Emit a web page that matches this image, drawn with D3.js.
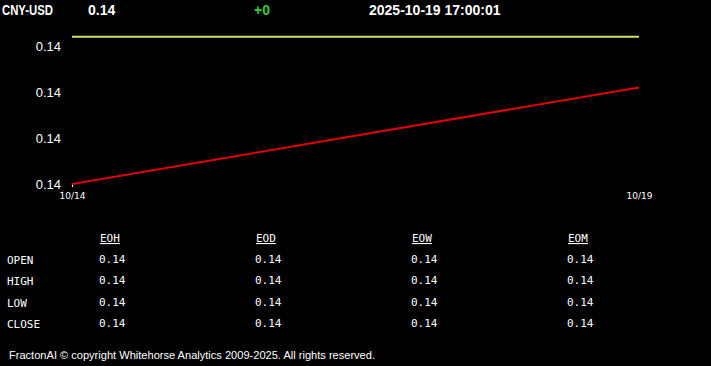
<!DOCTYPE html>
<html><head><meta charset="utf-8">
<script src="https://cdn.jsdelivr.net/npm/d3@7"></script>
<style>
html,body{margin:0;padding:0;background:#000;}
svg{display:block;}
</style></head>
<body>
<script>
const symbol = "CNY-USD";
const lastPrice = "0.14";
const change = "+0";
const timestamp = "2025-10-19 17:00:01";
const dates = ["2025-10-14", "2025-10-19"];
const priceSeries = [0.14010, 0.14031];
const refLevel = [0.14042, 0.14042];
const yTicks = [0.1401, 0.1402, 0.1403, 0.1404];
const xTickLabels = ["10/14", "10/19"];
const tableCols = ["EOH", "EOD", "EOW", "EOM"];
const tableRows = ["OPEN", "HIGH", "LOW", "CLOSE"];
const tableValues = [
  [0.14, 0.14, 0.14, 0.14],
  [0.14, 0.14, 0.14, 0.14],
  [0.14, 0.14, 0.14, 0.14],
  [0.14, 0.14, 0.14, 0.14]
];
const footer = "FractonAI \u00A9 copyright Whitehorse Analytics 2009-2025. All rights reserved.";

const W = 711, H = 366;
const svg = d3.select("body").append("svg").attr("width", W).attr("height", H)
  .style("background", "#000");

// header
const hdr = svg.append("g").attr("font-family", "Arial, 'Liberation Sans', sans-serif")
  .attr("font-weight", "bold").attr("font-size", 14);
hdr.append("text").attr("x", 2).attr("y", 15).attr("fill", "#fff")
  .attr("textLength", 51).attr("lengthAdjust", "spacingAndGlyphs").text(symbol);
hdr.append("text").attr("x", 88).attr("y", 15).attr("fill", "#fff").text(lastPrice);
hdr.append("text").attr("x", 254).attr("y", 15).attr("fill", "#33cc33").text(change);
hdr.append("text").attr("x", 369).attr("y", 15).attr("fill", "#fff").text(timestamp);

// chart
const parse = d3.timeParse("%Y-%m-%d");
const xDates = dates.map(parse);
const x = d3.scaleTime().domain(d3.extent(xDates)).range([72, 639]);
const y = d3.scaleLinear().domain([0.1401, 0.1404]).range([184, 46]);

const yAxis = d3.axisLeft(y).tickValues(yTicks).tickFormat(d3.format(".2f")).tickSize(0).tickPadding(11);
const gy = svg.append("g").attr("transform", "translate(72,0)").call(yAxis);
gy.select(".domain").remove();
gy.selectAll("text").attr("fill", "#fff").attr("font-size", 13)
  .attr("font-family", "'Liberation Sans', Arial, sans-serif").attr("dy", "0.35em");

const xAxis = d3.axisBottom(x).tickValues(xDates).tickFormat((d, i) => xTickLabels[i]).tickSize(3).tickPadding(6);
const gx = svg.append("g").attr("transform", "translate(0,184)").call(xAxis);
gx.select(".domain").remove();
gx.selectAll("line").attr("stroke", "#fff");
gx.selectAll(".tick").filter((d, i) => i > 0).select("line").remove();
gx.selectAll("text").attr("fill", "#fff").attr("font-size", 9)
  .attr("font-family", "Tahoma, 'DejaVu Sans', sans-serif");

const line = d3.line().x((d, i) => x(xDates[i])).y(d => y(d));
svg.append("path").datum(refLevel).attr("d", line).attr("fill", "none")
  .attr("stroke", "#cde26a").attr("stroke-width", 2);
svg.append("path").datum(priceSeries).attr("d", line).attr("fill", "none")
  .attr("stroke", "#e0000a").attr("stroke-width", 2);

// table
const tbl = svg.append("g").attr("font-family", "'DejaVu Sans Mono', 'Liberation Mono', monospace")
  .attr("font-size", 11).attr("fill", "#fff");
const colX = d3.scalePoint().domain(tableCols).range([99, 567]);
const rowY = d3.scalePoint().domain(tableRows).range([263, 327]);
tableCols.forEach(c => {
  tbl.append("text").attr("x", colX(c) + 1).attr("y", 242).text(c);
});
tbl.selectAll("text").attr("text-decoration", "underline");
tableRows.forEach((r, ri) => {
  tbl.append("text").attr("x", 7).attr("y", rowY(r) + 1).text(r);
  tableCols.forEach((c, ci) => {
    tbl.append("text").attr("x", colX(c)).attr("y", rowY(r)).text(d3.format(".2f")(tableValues[ri][ci]));
  });
});

// footer
svg.append("text").attr("x", 9).attr("y", 359).attr("fill", "#fff")
  .attr("font-family", "Arial, 'Liberation Sans', sans-serif").attr("font-size", 11)
  .attr("textLength", 366).attr("lengthAdjust", "spacingAndGlyphs").text(footer);
</script>
</body></html>
